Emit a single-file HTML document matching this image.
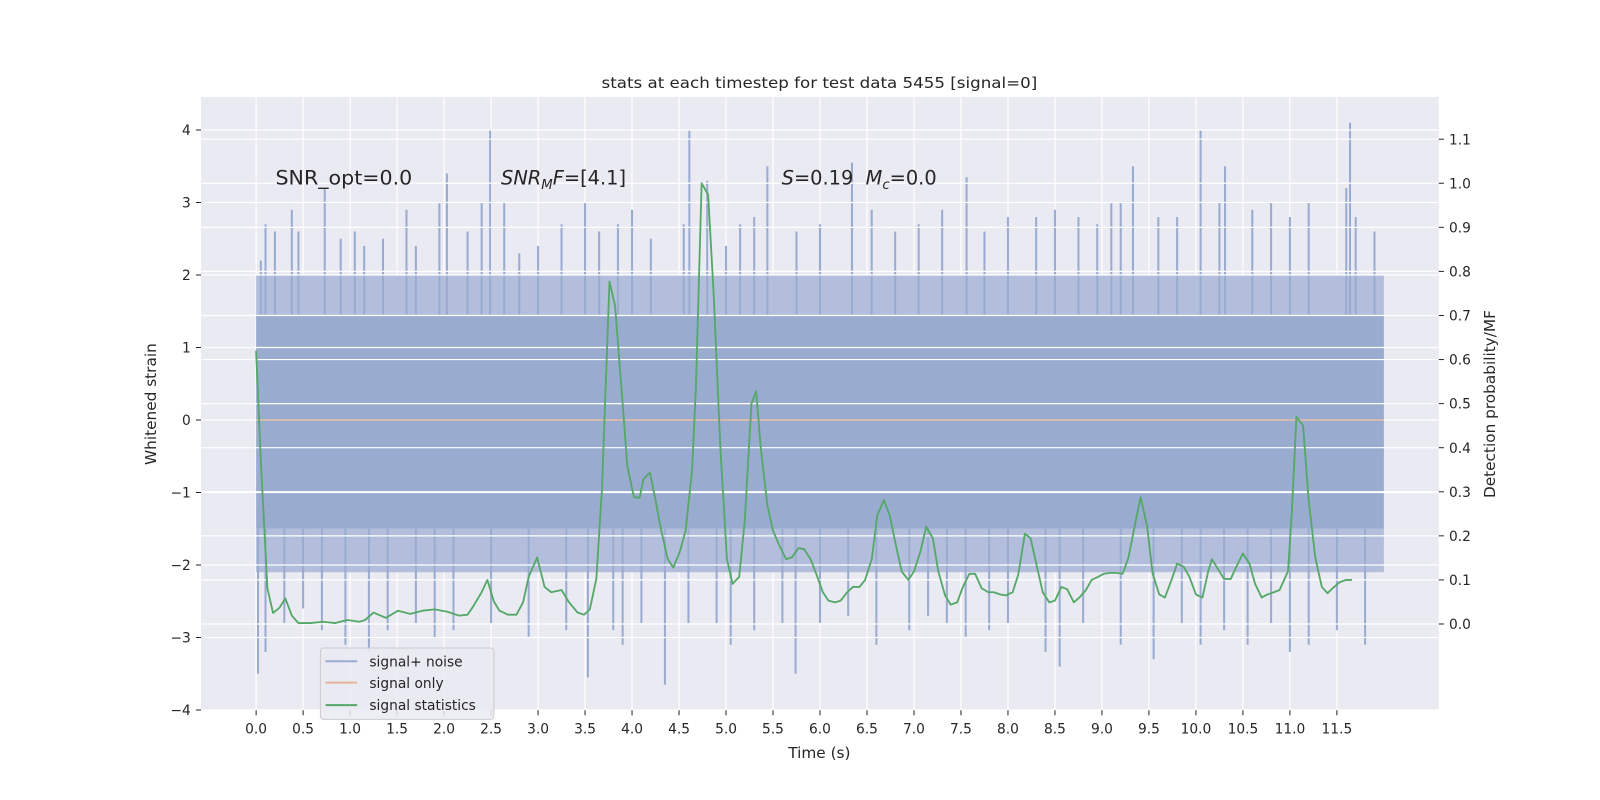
<!DOCTYPE html>
<html><head><meta charset="utf-8"><style>
html,body{margin:0;padding:0;background:#fff}
svg{display:block;font-family:"DejaVu Sans","Liberation Sans",sans-serif}
</style></head><body>
<svg id="chart" width="1600" height="800" viewBox="0 0 1568 784" xmlns="http://www.w3.org/2000/svg">
<rect x="0" y="0" width="1568" height="784" fill="#fff"/>
<rect x="197" y="95" width="1213" height="601" fill="#eaeaf2"/>
<g id="vgrid"></g>
<g id="noise"></g>
<g id="grid"></g>
<g id="signal"></g>
<g id="stats"></g>
<g id="axes"></g>
<text x="803" y="86" text-anchor="middle" font-size="15" textLength="427" lengthAdjust="spacingAndGlyphs" fill="#262626">stats at each timestep for test data 5455 [signal=0]</text>
<text x="270" y="181" font-size="19" textLength="134" lengthAdjust="spacingAndGlyphs" fill="#262626">SNR_opt=0.0</text>
<text x="491" y="181" font-size="19" fill="#262626"><tspan font-style="italic">SNR</tspan><tspan font-style="italic" font-size="13" dy="4">M</tspan><tspan font-style="italic" dy="-4">F</tspan>=[4.1]</text>
<text x="766" y="181" font-size="19" fill="#262626"><tspan font-style="italic">S</tspan>=0.19 <tspan dx="6" font-style="italic">M</tspan><tspan font-style="italic" font-size="13" dy="4">c</tspan><tspan dy="-4">=0.0</tspan></text>
<text x="803" y="743" text-anchor="middle" font-size="15" fill="#262626">Time (s)</text>
<text transform="translate(153,396) rotate(-90)" text-anchor="middle" font-size="15" fill="#262626">Whitened strain</text>
<text transform="translate(1465,396) rotate(-90)" text-anchor="middle" font-size="15" fill="#262626">Detection probability/MF</text>
<g>
<rect x="314" y="635" width="170" height="70" rx="3" fill="#eaeaf2" fill-opacity="0.85" stroke="#cccccc"/>
<line x1="319" y1="648" x2="350" y2="648" stroke="#9aabd0" stroke-width="2"/>
<text x="362" y="653" font-size="13.5" fill="#262626">signal+ noise</text>
<line x1="319" y1="669" x2="350" y2="669" stroke="#e5b49b" stroke-width="2"/>
<text x="362" y="674" font-size="13.5" fill="#262626">signal only</text>
<line x1="319" y1="691" x2="350" y2="691" stroke="#55a868" stroke-width="2"/>
<text x="362" y="696" font-size="13.5" fill="#262626">signal statistics</text>
</g>
</svg>
<script>
const xTicks=[0,0.5,1,1.5,2,2.5,3,3.5,4,4.5,5,5.5,6,6.5,7,7.5,8,8.5,9,9.5,10,10.5,11,11.5];
const xTickLabels=["0.0","0.5","1.0","1.5","2.0","2.5","3.0","3.5","4.0","4.5","5.0","5.5","6.0","6.5","7.0","7.5","8.0","8.5","9.0","9.5","10.0","10.5","11.0","11.5"];
const yTicks=[-4,-3,-2,-1,0,1,2,3,4];
const yTickLabels=["\u22124","\u22123","\u22122","\u22121","0","1","2","3","4"];
const rTicks=[0,0.1,0.2,0.3,0.4,0.5,0.6,0.7,0.8,0.9,1.0,1.1];
const rTickLabels=["0.0","0.1","0.2","0.3","0.4","0.5","0.6","0.7","0.8","0.9","1.0","1.1"];
const noiseCoreHi=1.45, noiseCoreLo=-1.5, noiseDenseHi=2.0, noiseDenseLo=-2.1;
const peakTimes=[0.05,0.1,0.2,0.38,0.45,0.73,0.9,1.05,1.15,1.35,1.6,1.7,1.95,2.03,2.25,2.4,2.49,2.64,2.8,3.0,3.25,3.5,3.65,3.85,4.0,4.2,4.55,4.61,4.8,5.0,5.15,5.3,5.44,5.75,6.0,6.34,6.55,6.8,7.05,7.3,7.56,7.75,8.0,8.3,8.5,8.75,8.95,9.1,9.2,9.33,9.6,9.8,10.05,10.25,10.31,10.6,10.8,11.0,11.2,11.64,11.6,11.7,11.9];
const peakValues=[2.2,2.7,2.6,2.9,2.6,3.2,2.5,2.6,2.4,2.5,2.9,2.4,3.0,3.4,2.6,3.0,4.0,3.0,2.3,2.4,2.7,3.0,2.6,2.7,2.9,2.5,2.7,4.0,3.3,2.4,2.7,2.8,3.5,2.6,2.7,3.55,2.9,2.6,2.7,2.9,3.35,2.6,2.8,2.8,2.9,2.8,2.7,3.0,3.0,3.5,2.8,2.8,4.0,3.0,3.5,2.9,3.0,2.8,3.0,4.1,3.2,2.8,2.6];
const troughTimes=[0.02,0.1,0.3,0.5,0.7,0.95,1.2,1.4,1.7,1.9,2.1,2.5,2.9,3.3,3.53,3.8,3.9,4.1,4.35,4.6,4.9,5.05,5.3,5.6,5.74,6.0,6.3,6.6,6.95,7.15,7.35,7.55,7.8,8.0,8.4,8.55,8.8,9.2,9.55,9.85,10.05,10.3,10.55,10.8,11.0,11.2,11.5,11.8];
const troughValues=[-3.5,-3.2,-2.8,-2.6,-2.9,-3.1,-3.2,-2.9,-2.8,-3.0,-2.9,-2.8,-3.0,-2.9,-3.55,-2.9,-3.1,-2.8,-3.65,-2.8,-2.8,-3.1,-2.9,-2.8,-3.5,-2.8,-2.7,-3.1,-2.9,-2.7,-2.8,-3.0,-2.9,-2.8,-3.2,-3.4,-2.8,-3.1,-3.3,-2.8,-3.1,-2.9,-3.1,-2.8,-3.2,-3.1,-2.9,-3.1];
const statTimes=[0,0.05,0.12,0.18,0.25,0.31,0.38,0.45,0.58,0.71,0.84,0.97,1.1,1.16,1.25,1.38,1.51,1.64,1.77,1.9,2.03,2.16,2.25,2.31,2.4,2.46,2.53,2.59,2.68,2.77,2.84,2.9,2.99,3.07,3.14,3.25,3.33,3.42,3.49,3.55,3.62,3.68,3.76,3.82,3.9,3.95,4.02,4.08,4.12,4.19,4.25,4.31,4.38,4.44,4.51,4.57,4.64,4.68,4.74,4.81,4.87,4.94,5.01,5.07,5.14,5.2,5.27,5.32,5.37,5.44,5.5,5.57,5.64,5.7,5.77,5.83,5.9,5.96,6.03,6.09,6.16,6.22,6.29,6.35,6.42,6.48,6.55,6.61,6.68,6.74,6.81,6.87,6.94,7.0,7.07,7.13,7.2,7.26,7.33,7.39,7.46,7.52,7.59,7.65,7.72,7.79,7.85,7.92,7.98,8.05,8.11,8.18,8.24,8.31,8.37,8.44,8.5,8.57,8.63,8.7,8.76,8.83,8.89,8.96,9.02,9.09,9.15,9.22,9.28,9.35,9.41,9.48,9.54,9.61,9.67,9.74,9.8,9.87,9.93,10.0,10.07,10.13,10.17,10.24,10.3,10.37,10.43,10.5,10.57,10.63,10.7,10.76,10.83,10.89,10.98,11.02,11.07,11.14,11.2,11.27,11.34,11.4,11.47,11.53,11.6,11.66];
const statValues=[0.62,0.37,0.08,0.025,0.037,0.058,0.019,0.002,0.002,0.005,0.002,0.009,0.005,0.009,0.026,0.014,0.03,0.023,0.03,0.033,0.028,0.019,0.021,0.04,0.072,0.1,0.051,0.03,0.021,0.021,0.049,0.107,0.151,0.084,0.072,0.077,0.049,0.026,0.021,0.033,0.102,0.305,0.777,0.721,0.5,0.358,0.288,0.286,0.328,0.344,0.281,0.212,0.147,0.128,0.165,0.212,0.351,0.537,1.0,0.974,0.744,0.398,0.147,0.091,0.107,0.235,0.5,0.528,0.398,0.27,0.212,0.177,0.147,0.151,0.172,0.17,0.147,0.114,0.072,0.053,0.049,0.053,0.072,0.084,0.084,0.1,0.147,0.247,0.281,0.247,0.177,0.119,0.1,0.119,0.165,0.221,0.195,0.119,0.065,0.044,0.049,0.084,0.114,0.114,0.081,0.072,0.072,0.067,0.065,0.072,0.112,0.205,0.195,0.128,0.072,0.049,0.053,0.084,0.079,0.049,0.06,0.077,0.1,0.107,0.114,0.116,0.116,0.114,0.149,0.223,0.288,0.223,0.114,0.067,0.06,0.1,0.137,0.13,0.107,0.067,0.06,0.119,0.147,0.123,0.102,0.102,0.13,0.16,0.137,0.091,0.06,0.067,0.072,0.077,0.12,0.25,0.47,0.45,0.28,0.15,0.084,0.07,0.084,0.095,0.1,0.1];
const tEnd=12;

const NS="http://www.w3.org/2000/svg";
const X0=251, XS=92.1;
function xs(t){return X0+t*XS;}
function yl(v){return 411.6-v*71.05;}
function yr(p){return 611.5-p*431.9;}
const PL=197,PR=1410,PT=95,PB=696;
function mk(parent,tag,attrs){const e=document.createElementNS(NS,tag);for(const k in attrs)e.setAttribute(k,attrs[k]);document.getElementById(parent).appendChild(e);return e;}

xTicks.forEach((t,i)=>{
  const g=mk('vgrid','line',{x1:xs(t),x2:xs(t),y1:PT,y2:PB,stroke:'#fff','stroke-width':1.2});
  
  
  mk('axes','line',{x1:xs(t),x2:xs(t),y1:PB,y2:PB+5,stroke:'#262626','stroke-width':1});
  const l=mk('axes','text',{x:xs(t),y:PB+23,'text-anchor':'middle','font-size':13.5,fill:'#262626'});
  l.textContent=xTickLabels[i];
  
  
});
yTicks.forEach((v,i)=>{
  const g=mk('grid','line',{x1:PL,x2:PR,y1:yl(v),y2:yl(v),stroke:'#fff','stroke-width':1.2});
  
  
  mk('axes','line',{x1:PL-5,x2:PL,y1:yl(v),y2:yl(v),stroke:'#262626','stroke-width':1});
  const l=mk('axes','text',{x:PL-10,y:yl(v)+5,'text-anchor':'end','font-size':13.5,fill:'#262626'});
  l.textContent=yTickLabels[i];
  
  
});
rTicks.forEach((p,i)=>{
  const g=mk('grid','line',{x1:PL,x2:PR,y1:yr(p),y2:yr(p),stroke:'#fff','stroke-width':1.2});
  
  
  mk('axes','line',{x1:PR,x2:PR+5,y1:yr(p),y2:yr(p),stroke:'#262626','stroke-width':1});
  const l=mk('axes','text',{x:PR+10,y:yr(p)+5,'text-anchor':'start','font-size':13.5,fill:'#262626'});
  l.textContent=rTickLabels[i];
  
  
});

const denseTop=mk('noise','rect',{x:xs(0),y:yl(noiseDenseHi),width:xs(tEnd)-xs(0),height:yl(noiseCoreHi)-yl(noiseDenseHi),fill:'#b3bedc'});


const denseBot=mk('noise','rect',{x:xs(0),y:yl(noiseCoreLo),width:xs(tEnd)-xs(0),height:yl(noiseDenseLo)-yl(noiseCoreLo),fill:'#b3bedc'});


const core=mk('noise','rect',{x:xs(0),y:yl(noiseCoreHi),width:xs(tEnd)-xs(0),height:yl(noiseCoreLo)-yl(noiseCoreHi),fill:'#9aabd0'});


peakTimes.forEach((t,i)=>{
  const s=mk('noise','line',{x1:xs(t),x2:xs(t),y1:yl(noiseCoreHi),y2:yl(peakValues[i]),stroke:'#9aabd0','stroke-width':2});
  
  
});
troughTimes.forEach((t,i)=>{
  const s=mk('noise','line',{x1:xs(t),x2:xs(t),y1:yl(noiseCoreLo),y2:yl(troughValues[i]),stroke:'#9aabd0','stroke-width':2});
  
  
});
const sig=mk('signal','line',{x1:xs(0),x2:xs(tEnd),y1:yl(0),y2:yl(0),stroke:'#dd8452','stroke-opacity':0.5,'stroke-width':1.5});


const pts=statTimes.map((t,i)=>xs(t).toFixed(1)+','+yr(statValues[i]).toFixed(1)).join(' ');
const st=mk('stats','polyline',{points:pts,fill:'none',stroke:'#55a868','stroke-width':1.8,'stroke-linejoin':'round'});


</script>
</body></html>
